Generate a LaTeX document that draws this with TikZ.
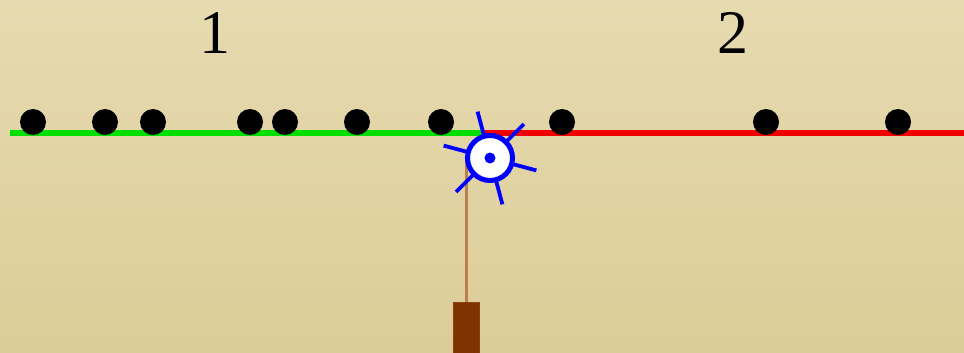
\documentclass[tikz,border=0pt]{standalone}
\usepackage{fontspec}
\setmainfont{Liberation Serif}
\usetikzlibrary{calc}
\definecolor{bgtop}{HTML}{E6DAB0}
\definecolor{bgbot}{HTML}{DCCC97}
\definecolor{trackL}{HTML}{00DD00}
\definecolor{trackR}{HTML}{F00000}
\definecolor{ropec}{HTML}{B8804F}
\definecolor{weight}{HTML}{7F3300}
\begin{document}
\begin{tikzpicture}[x=1pt,y=-1pt,
  bead/.style={circle,fill=black,inner sep=0pt,minimum size=26pt},
  track/.style={line width=5.5pt},
  pulley/.style={circle,draw=blue,fill=white,line width=5pt,inner sep=0pt,minimum size=45pt},
  spoke/.style={blue,line width=3.8pt},
  rope/.style={ropec,line width=3pt},
  block/.style={fill=weight,draw=weight!80!ropec,line width=1pt,inner sep=0pt,minimum width=26pt,minimum height=62pt},
  region/.style={font=\fontsize{62}{62}\selectfont,anchor=base,inner sep=0pt}]
  % backdrop
  \useasboundingbox (0,0) rectangle (964,353);
  \clip (0,0) rectangle (964,353);
  \shade[top color=bgtop,bottom color=bgbot] (0,0) rectangle (964,353);

  % region labels
  \node[region] (lab1) at (215,54) {1};
  \node[region] (lab2) at (733,54) {2};

  % the two track halves
  \coordinate (tl) at (10,133);
  \coordinate (tm) at (482,133);
  \coordinate (tr) at (970,133);
  \draw[track,trackL] (tl) -- (tm);
  \draw[track,trackR] (tm) -- (tr);

  % beads on the track
  \foreach \i/\x in {1/33,2/105,3/153,4/250,5/285,6/357,7/441,8/562,9/766,10/898}
    \node[bead] (b\i) at (\x,122) {};

  % hanging weight and its rope
  \coordinate (hub) at (490,158);
  \node[block] (wt) at (466,333) {};
  \draw[rope] (wt.north) -- (wt.north |- hub);

  % pulley wheel with spokes
  \foreach \a in {105,45,-15,-75,-135,165}
    \draw[spoke] ($(hub)+(\a:22pt)$) -- ($(hub)+(\a:48pt)$);
  \node[pulley] (wheel) at (hub) {};
  \node[circle,fill=blue,inner sep=0pt,minimum size=11pt] (axle) at (hub) {};
\end{tikzpicture}
\end{document}
